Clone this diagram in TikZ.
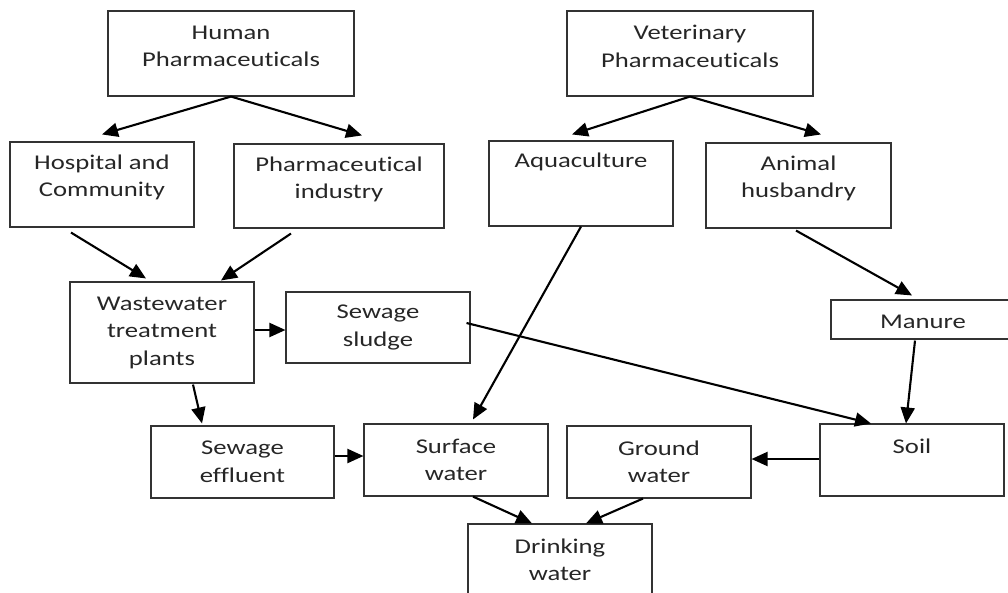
\documentclass[tikz,border=0pt]{standalone}
\usepackage{fontspec}
\setmainfont{Carlito}[FakeStretch=1.27, Ligatures=NoCommon]
\usetikzlibrary{arrows.meta}

\begin{document}
\begin{tikzpicture}[
      x = 1pt, y = -1pt,
      every node/.style = {
        draw = black!80, line width = 1.1pt, minimum width = 184pt,
        minimum height = 72pt, inner sep = 0pt},
      every label/.style = {
        draw = none, minimum width = 0pt, minimum height = 0pt,
        align = center, text = black!85,
        font = \fontsize{21}{27.5}\selectfont},
      arr/.style = {line width = 2.1pt, -{Triangle[length = 16pt, width = 14pt]}}
      ]
    \useasboundingbox (0,0) rectangle (1008,592);
    \clip (0,0) rectangle (1008,592);
    \node[minimum width = 246pt, minimum height = 85pt,
      label = {[yshift = 7pt]center:Human\\Pharmaceuticals}] (hum) at (231,53.5) {}; % 0
    \node[minimum width = 246pt, minimum height = 85pt,
      label = {[yshift = 7pt]center:Veterinary\\Pharmaceuticals}] (vet) at (690,53.5) {}; % 1
    \node[minimum height = 85pt,
      label = {[yshift = 7pt]center:Hospital and\\Community}] (hosp) at (102,184.5) {}; % 2
    \node[minimum width = 210pt, minimum height = 84pt,
      label = {[yshift = 6.5pt]center:Pharmaceutical\\industry}] (ind) at (339,186) {}; % 3
    \node[minimum height = 85pt,
      label = {[yshift = 21.5pt]center:Aquaculture}] (aqua) at (581,183.5) {}; % 4
    \node[minimum width = 185pt, minimum height = 85pt,
      label = {[yshift = 7pt]center:Animal\\husbandry}] (anim) at (798.5,185.5) {}; % 5
    \node[minimum height = 101pt,
      label = {center:Wastewater\\treatment\\plants}] (wwtp) at (162,332.5) {}; % 6
    \node[minimum height = 71pt,
      label = {center:Sewage\\sludge}] (sludge) at (378,327.5) {}; % 7
    \node[minimum height = 39pt,
      label = {[yshift = -2pt]center:Manure}] (manure) at (923,319.5) {}; % 8
    \node[minimum width = 183pt,
      label = {center:Sewage\\effluent}] (effl) at (242.5,462) {}; % 9
    \node[label = {center:Surface\\water}] (surf) at (456,460) {}; % 10
    \node[label = {center:Ground\\water}] (ground) at (659,462) {}; % 11
    \node[label = {[yshift = 14pt]center:Soil}] (soil) at (912,460) {}; % 12
    \node[label = {center:Drinking\\water}] (drink) at (560,560) {}; % 13
    \draw[arr] (hum.south) -- ([yshift = 7pt]hosp.north);
    \draw[arr] (hum.south) -- ([xshift = 23pt, yshift = 8pt]ind.north);
    \draw[arr] (vet.south) -- ([xshift = -9pt, yshift = 6pt]aqua.north);
    \draw[arr] (vet.south) -- ([xshift = 22.5pt, yshift = 8pt]anim.north);
    \draw[arr] ([xshift = -31pt, yshift = -5pt]hosp.south) -- ([xshift = -16pt, yshift = 3pt]wwtp.north);
    \draw[arr] ([xshift = -48pt, yshift = -5pt]ind.south) -- ([xshift = 59pt, yshift = 1pt]wwtp.north);
    \draw[arr] ([yshift = 2.5pt]wwtp.east) -- ([yshift = -2.5pt]sludge.west);
    \draw[arr] ([xshift = 31pt, yshift = -1pt]wwtp.south) -- ([xshift = -40.5pt, yshift = 2pt]effl.north);
    \draw[arr] ([yshift = 6pt]effl.east) -- ([yshift = 4pt]surf.west);
    \draw[arr] ([xshift = -4pt, yshift = 4.5pt]sludge.east) -- ([xshift = -41pt]soil.north);
    \draw[arr] (aqua.south) -- ([xshift = 17pt, yshift = 4pt]surf.north);
    \draw[arr] ([xshift = -2.5pt, yshift = -2pt]anim.south) -- ([xshift = -11pt, yshift = 4pt]manure.north);
    \draw[arr] ([xshift = -8pt, yshift = -1pt]manure.south) -- ([xshift = -6pt]soil.north);
    \draw[arr] ([yshift = 1pt]soil.west) -- ([yshift = 3pt]ground.east);
    \draw[arr] ([xshift = 17pt]surf.south) -- ([xshift = -28pt]drink.north);
    \draw[arr] ([xshift = -16pt]ground.south) -- ([xshift = 26pt]drink.north);
  \end{tikzpicture}
\end{document}
